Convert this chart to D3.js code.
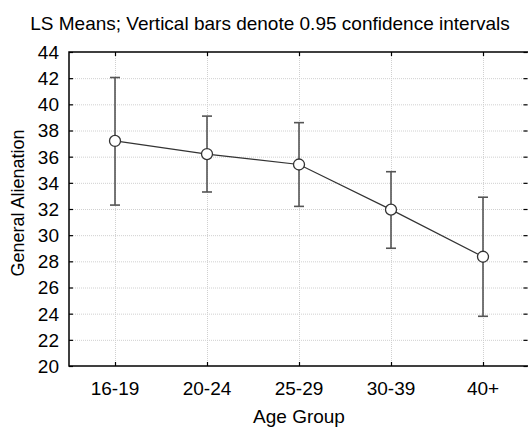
<!DOCTYPE html>
<html>
<head>
<meta charset="utf-8">
<script src="https://cdn.jsdelivr.net/npm/d3@7"></script>
<style>
  body { margin: 0; background: #fff; }
  svg { display: block; font-family: "Liberation Sans", Arial, sans-serif; }
</style>
</head>
<body>
<div class="container"></div>
<script>
// data
var groups = ["16-19", "20-24", "25-29", "30-39", "40+"];
var means = [37.2, 36.2, 35.4, 31.95, 28.35];
var lower = [32.3, 33.3, 32.2, 29.0, 23.8];
var upper = [42.05, 39.1, 38.6, 34.85, 32.9];
var yTicks = [20, 22, 24, 26, 28, 30, 32, 34, 36, 38, 40, 42, 44];

var width = 528, height = 427;
var margin = { top: 52, right: -1, bottom: 61, left: 69 };

var svg = d3.select(".container")
  .append("svg")
    .attr("width", width)
    .attr("height", height);

var x = d3.scalePoint()
  .domain(groups)
  .range([margin.left, width - margin.right])
  .padding(0.5);

var y = d3.scaleLinear()
  .domain([20, 44])
  .range([height - margin.bottom, margin.top]);

var x0 = margin.left, x1 = width - margin.right;
var y0 = height - margin.bottom, y1 = margin.top;

// grid
var grid = svg.append("g")
  .attr("stroke", "#d0d0d0")
  .attr("stroke-dasharray", "1,1")
  .attr("stroke-width", 1);

grid.selectAll("line.h")
  .data(yTicks.slice(1, -1))
  .enter().append("line")
    .attr("class", "h")
    .attr("x1", x0).attr("x2", x1)
    .attr("y1", d => y(d) + 0.5).attr("y2", d => y(d) + 0.5);

grid.selectAll("line.v")
  .data(groups)
  .enter().append("line")
    .attr("class", "v")
    .attr("x1", d => x(d) + 0.5).attr("x2", d => x(d) + 0.5)
    .attr("y1", y1).attr("y2", y0);

// axes, ticks pointing inward
var tickSize = 4;
svg.append("g")
  .attr("transform", "translate(" + x0 + ",0)")
  .call(d3.axisRight(y).tickValues(yTicks).tickSize(tickSize).tickFormat(""))
  .call(g => g.select(".domain").remove());
svg.append("g")
  .attr("transform", "translate(" + (width - 0.5) + ",0)")
  .call(d3.axisLeft(y).tickValues(yTicks).tickSize(tickSize).tickFormat(""))
  .call(g => g.select(".domain").remove());
svg.append("g")
  .attr("transform", "translate(0," + y0 + ")")
  .call(d3.axisTop(x).tickSize(tickSize).tickFormat(""))
  .call(g => g.select(".domain").remove());
svg.append("g")
  .attr("transform", "translate(0," + y1 + ")")
  .call(d3.axisBottom(x).tickSize(tickSize).tickFormat(""))
  .call(g => g.select(".domain").remove());

svg.selectAll(".tick line").attr("stroke", "#000").attr("stroke-width", 1.2);

// frame (right side falls just outside the picture)
svg.append("rect")
  .attr("x", x0).attr("y", y1)
  .attr("width", x1 + 2 - x0).attr("height", y0 - y1)
  .attr("fill", "none")
  .attr("stroke", "#000")
  .attr("stroke-width", 1.5);

// tick labels
svg.append("g")
  .selectAll("text")
  .data(yTicks)
  .enter().append("text")
    .attr("x", x0 - 10)
    .attr("y", d => y(d))
    .attr("dy", "0.36em")
    .attr("text-anchor", "end")
    .attr("font-size", "19px")
    .text(d => d);

svg.append("g")
  .selectAll("text")
  .data(groups)
  .enter().append("text")
    .attr("x", d => x(d))
    .attr("y", y0 + 29)
    .attr("text-anchor", "middle")
    .attr("font-size", "19px")
    .text(d => d);

// titles
svg.append("text")
  .attr("x", 270).attr("y", 30)
  .attr("text-anchor", "middle")
  .attr("font-size", "19px")
  .text("LS Means; Vertical bars denote 0.95 confidence intervals");

svg.append("text")
  .attr("x", (x0 + x1) / 2).attr("y", 423)
  .attr("text-anchor", "middle")
  .attr("font-size", "19px")
  .text("Age Group");

svg.append("text")
  .attr("transform", "translate(24," + 203 + ") rotate(-90)")
  .attr("text-anchor", "middle")
  .attr("font-size", "18px")
  .text("General Alienation");

// error bars
var pts = groups.map((g, i) => ({ g: g, m: means[i], lo: lower[i], hi: upper[i] }));
var eb = svg.append("g")
  .attr("stroke", "#555")
  .attr("stroke-width", 1.6);
eb.selectAll("line.bar")
  .data(pts)
  .enter().append("line")
    .attr("x1", d => x(d.g)).attr("x2", d => x(d.g))
    .attr("y1", d => y(d.lo)).attr("y2", d => y(d.hi));
eb.selectAll("line.capHi")
  .data(pts)
  .enter().append("line")
    .attr("x1", d => x(d.g) - 5).attr("x2", d => x(d.g) + 5)
    .attr("y1", d => y(d.hi)).attr("y2", d => y(d.hi));
eb.selectAll("line.capLo")
  .data(pts)
  .enter().append("line")
    .attr("x1", d => x(d.g) - 5).attr("x2", d => x(d.g) + 5)
    .attr("y1", d => y(d.lo)).attr("y2", d => y(d.lo));

// mean line + markers
var line = d3.line()
  .x(d => x(d.g))
  .y(d => y(d.m));

svg.append("path")
  .datum(pts)
  .attr("d", line)
  .attr("fill", "none")
  .attr("stroke", "#333")
  .attr("stroke-width", 1.2);

svg.append("g")
  .selectAll("circle")
  .data(pts)
  .enter().append("circle")
    .attr("cx", d => x(d.g))
    .attr("cy", d => y(d.m))
    .attr("r", 5.5)
    .attr("fill", "#fff")
    .attr("stroke", "#333")
    .attr("stroke-width", 1.3);
</script>
</body>
</html>
